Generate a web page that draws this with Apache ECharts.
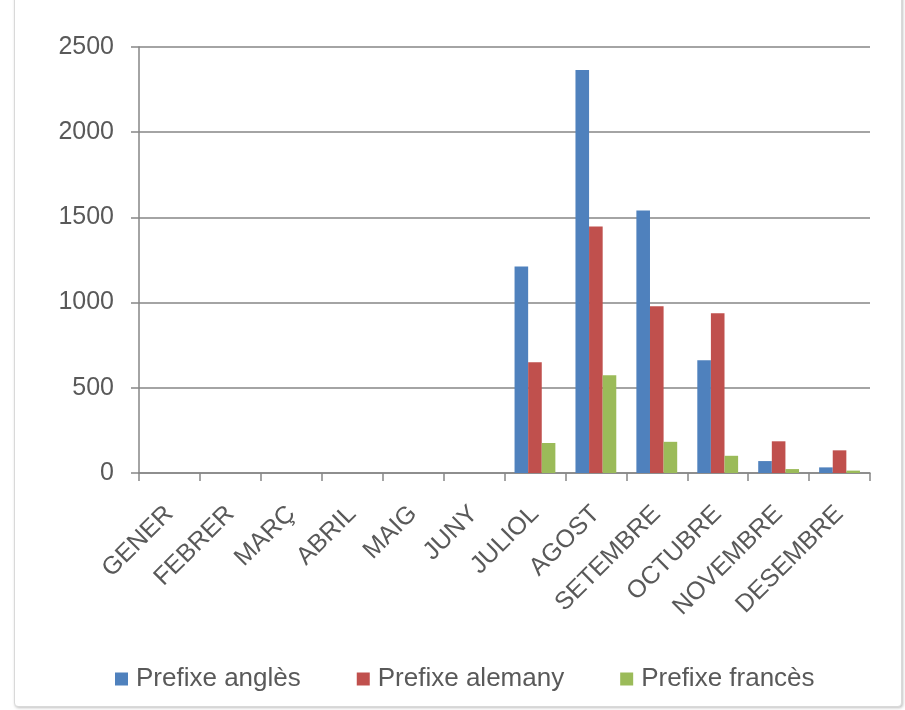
<!DOCTYPE html>
<html>
<head>
<meta charset="utf-8">
<script src="https://cdn.jsdelivr.net/npm/echarts@6/dist/echarts.min.js"></script>
<style>
  html, body { margin: 0; padding: 0; background: #fff; }
  #frame {
    position: absolute; left: 14px; top: -6px; width: 886px; height: 711px;
    border: 1px solid #d9d9d9; box-shadow: 1px 1px 3px rgba(0,0,0,0.25);
    border-radius: 4px; background: #fff;
  }
  #chart { position: absolute; left: 0; top: 0; width: 905px; height: 710px; }
</style>
</head>
<body>
<div id="frame"></div>
<div id="chart"></div>
<script>
// mesos
const months = ["GENER", "FEBRER", "MARÇ", "ABRIL", "MAIG", "JUNY", "JULIOL", "AGOST", "SETEMBRE", "OCTUBRE", "NOVEMBRE", "DESEMBRE"];
// valors llegits del gràfic
const prefixAngles = [0, 0, 0, 0, 0, 0, 1212, 2365, 1540, 662, 70, 33];
const prefixAlemany = [0, 0, 0, 0, 0, 0, 650, 1446, 978, 937, 186, 133];
const prefixFrances = [0, 0, 0, 0, 0, 0, 176, 574, 183, 101, 23, 14];
const yTicks = [0, 500, 1000, 1500, 2000, 2500];

const myChart = echarts.init(document.getElementById("chart"));

const option = {
  animation: false,
  textStyle: { fontFamily: "Liberation Sans, Arial, sans-serif" },
  grid: { left: 139, right: 35, top: 47, bottom: 237, containLabel: false },
  legend: {
    bottom: 13,
    left: 110,
    itemWidth: 13,
    itemHeight: 13,
    itemGap: 56,
    icon: "rect",
    textStyle: { fontSize: 26, color: "#595959", padding: [0, 0, 0, 3] },
    data: ["Prefixe anglès", "Prefixe alemany", "Prefixe francès"]
  },
  xAxis: {
    type: "category",
    data: months,
    axisLine: { lineStyle: { color: "#868686", width: 1.5 } },
    axisTick: { show: true, length: 8, lineStyle: { color: "#868686", width: 1.5 } },
    axisLabel: {
      rotate: 45,
      fontSize: 25,
      color: "#595959",
      margin: 37,
      interval: 0
    }
  },
  yAxis: {
    type: "value",
    min: 0,
    max: 2500,
    interval: 500,
    axisLine: { show: true, lineStyle: { color: "#868686", width: 1.5 } },
    axisTick: { show: true, length: 8, lineStyle: { color: "#868686", width: 1.5 } },
    axisLabel: {
      fontSize: 25,
      color: "#595959",
      margin: 25,
      formatter: v => (yTicks.includes(v) ? String(v) : "")
    },
    splitLine: { lineStyle: { color: "#868686", width: 1.5 } }
  },
  series: [
    {
      name: "Prefixe anglès",
      type: "bar",
      barGap: "0%",
      barCategoryGap: "33%",
      itemStyle: { color: "#4f81bd" },
      data: prefixAngles
    },
    {
      name: "Prefixe alemany",
      type: "bar",
      itemStyle: { color: "#c0504d" },
      data: prefixAlemany
    },
    {
      name: "Prefixe francès",
      type: "bar",
      itemStyle: { color: "#9bbb59" },
      data: prefixFrances
    }
  ]
};

myChart.setOption(option);
</script>
</body>
</html>
